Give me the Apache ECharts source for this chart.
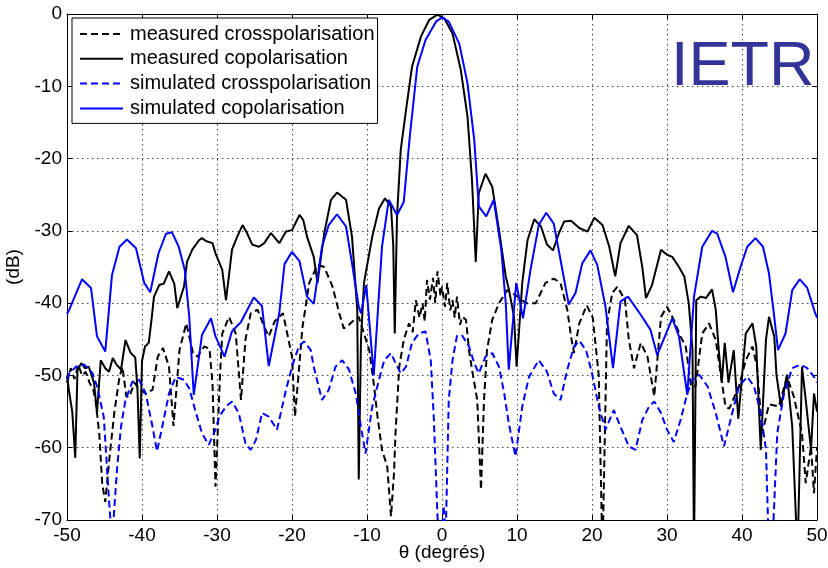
<!DOCTYPE html>
<html>
<head>
<meta charset="utf-8">
<script src="https://cdn.jsdelivr.net/npm/echarts@6/dist/echarts.min.js"></script>
<style>html,body{margin:0;padding:0;background:#fff;}#c{width:828px;height:568px;}</style>
</head>
<body>
<div id="c"></div>
<script>
const xTicks = [-50,-40,-30,-20,-10,0,10,20,30,40,50];
const yTicks = [-70,-60,-50,-40,-30,-20,-10,0];
const seriesNames = ['measured crosspolarisation','measured copolarisation','simulated crosspolarisation','simulated copolarisation'];

const measCross = [[-50,-51],[-49.5,-49],[-49,-50.5],[-48.5,-48.5],[-48,-50],[-47.5,-49.5],[-47,-51],[-46.5,-52],[-46.2,-53.4],[-45.7,-58],[-45.3,-65],[-44.9,-67.5],[-44.4,-62],[-43.7,-55.2],[-43,-50.2],[-42.6,-48.8],[-42.1,-52.9],[-41.7,-53],[-41,-51],[-40.3,-52],[-39.5,-52.5],[-38.6,-52],[-37.9,-47.4],[-37.2,-46.2],[-36.4,-48.8],[-35.8,-57],[-35,-46.5],[-34.1,-42.8],[-33.2,-46.9],[-32.6,-47.4],[-31.7,-46],[-31,-46.3],[-30.6,-51.1],[-30.2,-65.4],[-29.6,-50],[-29.3,-44.2],[-28.4,-41.9],[-27.5,-44.2],[-26.8,-53.4],[-26.2,-45],[-25.5,-41.4],[-24.6,-40.9],[-23.7,-43.3],[-23.1,-44.6],[-22.3,-42.5],[-21.2,-41.4],[-20,-47.4],[-19.6,-55.7],[-18.6,-43.3],[-17.7,-37.2],[-16.6,-34.7],[-15.7,-35],[-14.6,-37.7],[-13.7,-41.4],[-13.1,-43.5],[-12.4,-43],[-11.7,-42.3],[-11.1,-41.9],[-10.4,-44.2],[-9.7,-46.5],[-9.1,-51.1],[-8.6,-55.7],[-8,-60.3],[-7.3,-62.6],[-6.8,-69.5],[-6.4,-63.5],[-6.2,-58],[-5.7,-48.8],[-5.1,-45.1],[-4.4,-42.8],[-3.9,-44],[-3.5,-39.6],[-3,-42],[-2.6,-40],[-2.3,-42.5],[-2,-36.8],[-1.6,-39.5],[-1.2,-36.5],[-0.9,-40],[-0.6,-35.6],[-0.2,-39],[0,-37.7],[0.4,-40.5],[0.7,-37.2],[1.1,-41],[1.4,-39.6],[1.7,-42],[2,-39.1],[2.4,-43],[2.7,-41.9],[3.2,-42.3],[3.6,-46.5],[4,-49.2],[4.7,-53.4],[5.2,-65.8],[5.6,-53.4],[6,-46.5],[6.7,-42.3],[7.6,-40],[8.7,-38.2],[9.8,-38.9],[11.2,-40],[12.5,-40],[13.8,-37.2],[14.9,-36.6],[15.8,-37.2],[16.7,-40.9],[17.2,-44.6],[17.6,-46.9],[18.3,-42.8],[19.3,-40.3],[20.1,-42],[20.9,-50],[21.4,-75],[22,-42.8],[22.7,-38.6],[23.4,-37.7],[24.4,-39.6],[24.9,-45],[25.6,-49],[26.5,-45.5],[27.4,-47.4],[28.3,-52.9],[29.2,-41.9],[30,-40.5],[30.9,-42.3],[31.8,-44.6],[32.5,-46],[33.2,-51.5],[33.8,-51.5],[34.7,-44.2],[35.6,-42.8],[36.5,-45.1],[37.8,-54.3],[38.3,-54.6],[39.6,-51.5],[40.5,-47.9],[41.4,-46],[42,-48.8],[42.7,-58],[43.6,-54],[44.9,-54.3],[46,-50.2],[46.9,-52.9],[48,-58],[48.5,-64.9],[49.2,-59.8],[49.6,-66.3],[50,-60]];

const measCo = [[-50,-50],[-49.7,-52.4],[-49.3,-55],[-48.9,-61.4],[-48.6,-49.2],[-48.1,-48.3],[-47.6,-49],[-47.1,-48.8],[-46.4,-51],[-46,-55.2],[-45.5,-47.9],[-44.9,-49],[-44.4,-49.5],[-43.9,-47.6],[-43.4,-48.5],[-42.8,-49.2],[-42.2,-45.1],[-41.5,-46.9],[-40.9,-47.5],[-40.6,-52],[-40.3,-61.5],[-40,-48],[-39.6,-46],[-39.1,-45.5],[-38.7,-42],[-38.4,-39.1],[-37.7,-37.5],[-37.1,-37.3],[-36.4,-35.6],[-35.7,-37.3],[-35.3,-40.7],[-34.4,-37.7],[-34,-34.3],[-33.3,-32.6],[-32.4,-31.3],[-32,-31],[-31.5,-31.4],[-30.6,-31.7],[-30.2,-33.1],[-29.3,-35.4],[-28.8,-39.6],[-28,-32.6],[-27.3,-30.8],[-26.6,-29.2],[-26,-30.3],[-25.3,-31.9],[-24.4,-32.2],[-23.7,-31.7],[-22.8,-30.3],[-21.7,-31.7],[-20.8,-30.1],[-20,-29.9],[-19,-27.8],[-18.5,-28.5],[-18,-30.8],[-17.1,-33.6],[-16.6,-37.2],[-15.7,-30.3],[-14.8,-25.7],[-14,-24.7],[-12.8,-25.7],[-12,-30.8],[-11.3,-40.9],[-11.1,-64.4],[-10.8,-45],[-10.4,-37.2],[-9.3,-30.8],[-8.4,-26.9],[-7.6,-25.5],[-6.8,-26.6],[-6.5,-32],[-6.3,-44.2],[-6,-28],[-5.5,-18.8],[-4.8,-13.3],[-4,-7.3],[-2.8,-3.1],[-1.7,-0.8],[-0.6,-0.1],[0.3,-0.6],[1.4,-2.7],[2.5,-7.7],[3.4,-14.2],[4,-23],[4.5,-34.3],[4.9,-24.8],[5.8,-22.1],[6.7,-23.9],[7.6,-29.9],[8.5,-36.3],[8.9,-38],[9.6,-41.9],[9.95,-48.8],[10.7,-37.2],[11.4,-31.3],[12.3,-28.4],[13.2,-29.4],[14,-31.9],[14.8,-32.7],[15.6,-30.3],[16.3,-28.7],[17.2,-28.6],[18.3,-29.6],[19.4,-30.1],[20.3,-28.2],[21.4,-29.2],[22.3,-32.2],[23.1,-36.3],[23.8,-31.7],[24.9,-29.3],[26,-30.6],[26.7,-35],[27.2,-39.3],[28,-37.5],[29.2,-32.6],[30,-33.3],[30.7,-33.6],[31.6,-35],[32.3,-36.3],[32.9,-40],[33.4,-46.5],[33.6,-75],[33.9,-39.6],[34.5,-39.1],[35.2,-39.3],[36,-38.1],[36.5,-40.9],[36.9,-46.5],[37.3,-51],[37.7,-45.5],[38.2,-51],[38.9,-46.5],[39.5,-56],[40.5,-44.2],[41.4,-42.8],[41.9,-46],[42.5,-60.3],[43.2,-45],[43.6,-41.9],[44.3,-44.6],[44.6,-50],[45.2,-54.3],[46,-49.9],[46.7,-57.1],[47.4,-75],[48,-48.8],[48.5,-53.4],[49.2,-60.3],[49.6,-52.5],[50,-55]];

const simCross = [[-50,-50.5],[-49.7,-49.7],[-48.8,-48.8],[-47.7,-48.5],[-46.6,-49.7],[-46,-51.5],[-45.1,-55.7],[-44.4,-67.2],[-44,-73],[-43.3,-62.6],[-42.8,-57.1],[-42.2,-53.4],[-41.3,-50.9],[-40.4,-50.6],[-39.5,-52.5],[-38.6,-57.1],[-38,-60.5],[-37.3,-57.1],[-36.4,-52.5],[-35.5,-50.2],[-34.4,-50.6],[-33.7,-51.8],[-32.8,-55.2],[-32,-58],[-31.1,-59.6],[-30.2,-57.5],[-29.7,-55.7],[-28.8,-54.3],[-28,-53.6],[-27.1,-55.2],[-26.2,-59.4],[-25.5,-60.3],[-24.8,-58.9],[-24,-55.2],[-23.1,-55.7],[-22,-57.5],[-20.8,-52],[-20,-48.8],[-19.1,-46],[-18.4,-45.3],[-17.5,-46.5],[-17.1,-48.8],[-16,-53.4],[-15.1,-52],[-14.2,-48.8],[-13.3,-47.9],[-12.4,-49.2],[-11.5,-52.5],[-10.8,-57.1],[-10.2,-60.8],[-9.3,-54.3],[-8.4,-50.6],[-7.7,-47.9],[-6.8,-46.9],[-6.2,-48.3],[-5.5,-49.7],[-4.8,-48.8],[-4,-45.5],[-3.1,-44.2],[-2.2,-43.9],[-1.5,-47.9],[-1.1,-55.7],[-0.6,-69.5],[-0.2,-76],[0.2,-68],[0.5,-72],[0.9,-53.4],[1.4,-47.9],[2,-44.5],[2.7,-44.5],[3.6,-46],[4.3,-48.3],[4.9,-49.7],[5.8,-47.4],[6.7,-46.9],[7.6,-48.8],[8.3,-52.5],[8.9,-56.6],[9.8,-61.2],[10.7,-54.3],[11.6,-50.2],[12.9,-47.9],[14,-49.5],[14.9,-52.5],[15.8,-53.4],[16.7,-49.2],[17.6,-46],[18.3,-45.2],[19.2,-46.5],[20,-49.7],[20.9,-54.3],[21.8,-57.5],[22.9,-54.8],[23.8,-57.1],[24.9,-59.8],[25.8,-60.3],[26.7,-56.2],[27.6,-54.3],[28.3,-53.6],[29.2,-55.2],[30,-57.5],[30.9,-59.2],[31.8,-56.2],[32.7,-52.5],[33.4,-50.6],[34.3,-49.9],[35.4,-51.5],[36.5,-55.2],[37.6,-59.8],[38.7,-55.2],[39.6,-51.5],[40.7,-50.2],[41.6,-51.5],[42.5,-55.2],[43.2,-60.3],[43.6,-75],[44,-75],[44.7,-58],[45.6,-52.5],[46.7,-49],[47.8,-48.5],[48.7,-49],[49.6,-50.2],[50,-51]];

const simCo = [[-50,-41.5],[-49.7,-40.9],[-48,-36.7],[-46.8,-37.9],[-46,-44.6],[-44.9,-46.7],[-44,-36.1],[-43,-32.2],[-42,-31.2],[-40.8,-32.4],[-39.7,-37.2],[-38.9,-38.5],[-37.8,-33.1],[-36.8,-30.4],[-36,-30.2],[-35.1,-32.2],[-34.3,-35.4],[-33.7,-41.9],[-33.1,-52.7],[-32,-44.4],[-30.8,-42.1],[-30.2,-44.6],[-29,-47.4],[-28,-43.9],[-26.8,-42.6],[-25.1,-39.2],[-24,-40.4],[-23.1,-48.7],[-21.7,-41.4],[-21,-34.6],[-20,-32.9],[-19,-34.2],[-18,-39.1],[-17.1,-40.1],[-16,-32.2],[-15.1,-29.2],[-14,-27.7],[-12.8,-29.4],[-12,-34.5],[-11.1,-40.5],[-10.8,-41.4],[-10.1,-37.5],[-9.1,-50],[-8,-32.2],[-7.1,-25.7],[-6,-27.8],[-5.1,-26],[-4.3,-17],[-3.3,-7.3],[-2.2,-3.6],[-0.8,-1.06],[0,-0.46],[0.9,-1.06],[2.3,-4.1],[3.4,-9.6],[4.3,-17.4],[4.9,-26.6],[5.9,-28],[6.9,-25.7],[7.9,-32.6],[8.5,-40],[8.9,-49.2],[9.9,-37.2],[10.8,-42.1],[11.8,-35.4],[12.9,-29.2],[13.9,-27.5],[14.9,-29],[15.8,-34],[16.9,-40.2],[17.8,-38.6],[18.7,-34.5],[19.8,-32.7],[20.7,-34.7],[21.8,-40.5],[22.8,-49],[23.8,-39.8],[24.8,-39.1],[26.5,-41.6],[27.8,-43.7],[28.7,-47.2],[30.7,-42.1],[31.6,-44.6],[32.7,-52.7],[33.6,-39.1],[34.7,-32.2],[36,-30],[36.7,-30.4],[37.8,-33.6],[38.8,-38.5],[39.8,-35],[40.7,-32.2],[41.8,-31],[42.8,-32.2],[43.6,-35.9],[44.3,-41.9],[44.8,-46.5],[45.8,-44.2],[46.7,-38.2],[47.7,-36.7],[48.7,-37.9],[49.7,-41.2],[50,-42]];

const FONT = 'Liberation Sans, Arial, Helvetica, sans-serif';
const chart = echarts.init(document.getElementById('c'), null, {renderer: 'canvas'});

function mkSeries(name, data, color, dashed) {
  return {
    name: name, type: 'line', data: data, symbol: 'none', showSymbol: false,
    legendIcon: 'none',
    xAxisIndex: 0, yAxisIndex: 0, clip: true, animation: false,
    lineStyle: {color: color, width: 2, type: dashed ? [7, 4] : 'solid'},
    itemStyle: {color: color}
  };
}

const axisCommon = {
  axisLine: {show: true, onZero: false, lineStyle: {color: '#000', width: 1}},
  axisTick: {show: true, inside: true, length: 5, lineStyle: {color: '#000'}},
};

chart.setOption({
  animation: false,
  backgroundColor: '#fff',
  textStyle: {fontFamily: FONT},
  grid: {left: 67, right: 11, top: 14, bottom: 48, containLabel: false, outerBoundsMode: 'none'},
  legend: {
    show: true, orient: 'vertical', left: 72, top: 18,
    data: seriesNames,
    itemWidth: 43, itemHeight: 14, itemGap: 4.8,
    padding: [6, 3, 5, 7],
    itemStyle: {opacity: 0},
    backgroundColor: '#fff', borderColor: '#000', borderWidth: 1, borderRadius: 0,
    textStyle: {fontFamily: FONT, fontSize: 20, color: '#000', padding: [0, 0, 0, 2]}
  },
  xAxis: [
    Object.assign({
      type: 'value', min: xTicks[0], max: xTicks[xTicks.length - 1], interval: 10, position: 'bottom',
      name: 'θ (degrés)', nameLocation: 'middle', nameGap: 23, nameMoveOverlap: false,
      nameTextStyle: {fontFamily: FONT, fontSize: 19, color: '#000'},
      axisLabel: {fontFamily: FONT, fontSize: 19, color: '#000', margin: 6},
      splitLine: {show: true, lineStyle: {color: '#444', width: 1, type: [1.5, 3.5]}}
    }, axisCommon),
    Object.assign({
      type: 'value', min: xTicks[0], max: xTicks[xTicks.length - 1], interval: 10, position: 'top',
      axisLabel: {show: false}, splitLine: {show: false}
    }, axisCommon)
  ],
  yAxis: [
    Object.assign({
      type: 'value', min: yTicks[0], max: yTicks[yTicks.length - 1], interval: 10, position: 'left',
      name: '(dB)', nameLocation: 'middle', nameGap: 40, nameRotate: 90,
      nameTextStyle: {fontFamily: FONT, fontSize: 19, color: '#000'},
      axisLabel: {fontFamily: FONT, fontSize: 19, color: '#000', margin: 5},
      splitLine: {show: true, lineStyle: {color: '#444', width: 1, type: [1.5, 3.5]}}
    }, axisCommon),
    Object.assign({
      type: 'value', min: yTicks[0], max: yTicks[yTicks.length - 1], interval: 10, position: 'right',
      axisLabel: {show: false}, splitLine: {show: false}
    }, axisCommon)
  ],
  graphic: [{
    type: 'text', left: 671, top: 36, z: 100,
    style: {text: 'IETR', fill: '#333399', font: '63px ' + FONT}
  }],
  series: [
    mkSeries(seriesNames[0], measCross, '#000', true),
    mkSeries(seriesNames[1], measCo, '#000', false),
    mkSeries(seriesNames[2], simCross, '#0000ff', true),
    mkSeries(seriesNames[3], simCo, '#0000ff', false)
  ]
});
</script>
</body>
</html>
